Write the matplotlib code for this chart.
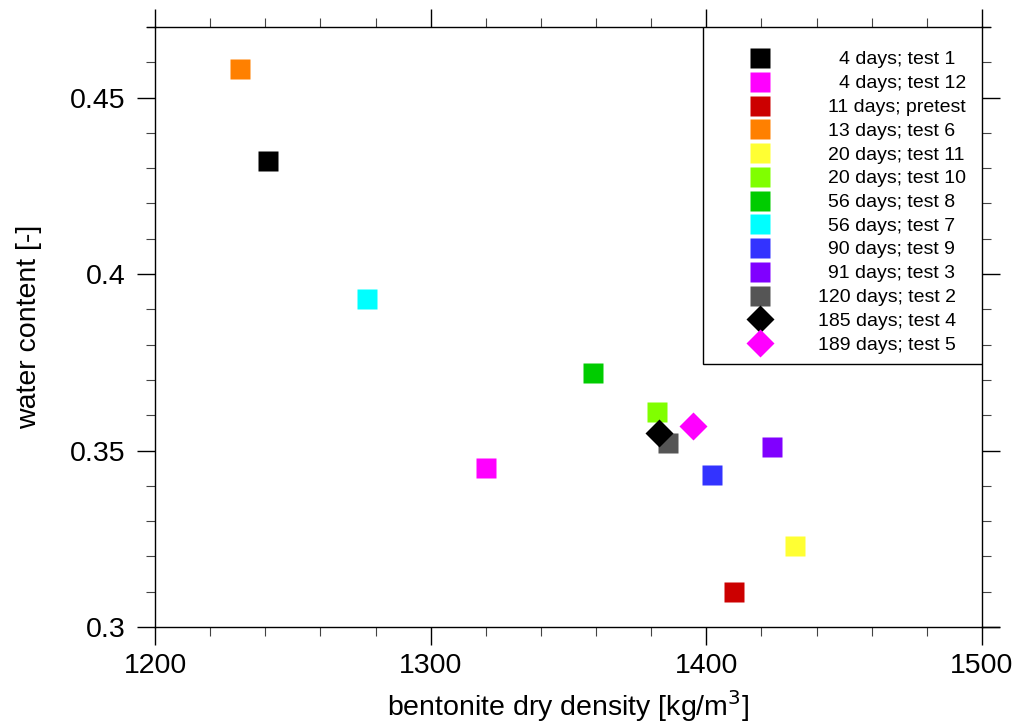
import matplotlib
matplotlib.use("Agg")
import matplotlib.pyplot as plt
from matplotlib.ticker import MultipleLocator
from matplotlib.lines import Line2D
from matplotlib.patches import Rectangle

plt.rcParams['font.family'] = ['Liberation Sans', 'DejaVu Sans']

labels = ["4 days; test 1", "4 days; test 12", "11 days; pretest", "13 days; test 6",
          "20 days; test 11", "20 days; test 10", "56 days; test 8", "56 days; test 7",
          "90 days; test 9", "91 days; test 3", "120 days; test 2", "185 days; test 4",
          "189 days; test 5"]
dry_density = [1241, 1320, 1410, 1231, 1432, 1382, 1359, 1277, 1402, 1424, 1386, 1383, 1395]
water_content = [0.432, 0.345, 0.310, 0.458, 0.323, 0.361, 0.372, 0.393, 0.343, 0.351,
                 0.352, 0.355, 0.357]
colors = ["#000000", "#ff00ff", "#cc0000", "#ff8000", "#ffff33", "#80ff00", "#00cc00",
          "#00ffff", "#3333ff", "#8000ff", "#555555", "#000000", "#ff00ff"]
markers = ["s"] * 11 + ["D", "D"]

W, H = 1016, 724
AX_L, AX_R, AX_T, AX_B = 155, 982, 27, 627

fig = plt.figure(figsize=(W / 100, H / 100), dpi=100)
ax = fig.add_axes([AX_L / W, 1 - AX_B / H, (AX_R - AX_L) / W, (AX_B - AX_T) / H])

MS = 14.4
for x, y, c, m in zip(dry_density, water_content, colors, markers):
    ax.plot([x], [y], linestyle="none", marker=m, markersize=MS,
            markerfacecolor=c, markeredgecolor="none", zorder=3)

ax.set_xlim(1200, 1500)
ax.set_ylim(0.3, 0.47)
ax.xaxis.set_major_locator(MultipleLocator(100))
ax.xaxis.set_minor_locator(MultipleLocator(20))
ax.yaxis.set_minor_locator(MultipleLocator(0.01))
ax.set_yticks([0.3, 0.35, 0.4, 0.45])
ax.set_yticklabels(["0.3", "0.35", "0.4", "0.45"])

ax.tick_params(which="both", direction="out", top=True, right=True,
               labeltop=False, labelright=False, labelsize=20.5, color="black")
ax.tick_params(which="major", length=13, width=1.0)
ax.tick_params(axis="x", which="major", pad=6)
ax.tick_params(axis="y", which="major", pad=8)
ax.tick_params(which="minor", length=6.5, width=0.8, color="#444444")
for s in ax.spines.values():
    s.set_linewidth(1.0)

# small overhangs of the frame lines
for xs, ys in (([1.0, 1.02], [0, 0]), ([-0.01, 0.0], [1, 1]), ([1.0, 1.01], [1, 1])):
    ax.add_line(Line2D(xs, ys, transform=ax.transAxes, color="black",
                       lw=1.0, clip_on=False))

ax.set_xlabel("bentonite dry density [kg/m$^3$]", fontsize=20.5, labelpad=6)
ax.set_ylabel("water content [-]", fontsize=20.5, labelpad=20)


# key box in the upper right corner; the day counts are right-aligned
def to_ax(px, py):
    return (px - AX_L) / (AX_R - AX_L), (AX_B - py) / (AX_B - AX_T)


KEY_FS = 14.0
digit_px = 0.556 * KEY_FS * 100 / 72

x0, y0 = to_ax(703, 364)
x1, y1 = to_ax(982, 27)
ax.add_patch(Rectangle((x0, y0), x1 - x0, y1 - y0, transform=ax.transAxes,
                       facecolor="white", edgecolor="black", lw=1.0, zorder=5))
row0, row_step = 58, 23.75
for i, (lab, c, m) in enumerate(zip(labels, colors, markers)):
    py = row0 + i * row_step
    mx, my = to_ax(760, py)
    ndig = len(lab.split(" ")[0])
    tx, _ = to_ax(850 - ndig * digit_px, py)
    ax.plot([mx], [my], transform=ax.transAxes, linestyle="none", marker=m,
            markersize=MS, markerfacecolor=c, markeredgecolor="none",
            clip_on=False, zorder=6)
    ax.text(tx, my, lab, transform=ax.transAxes, ha="left", va="center_baseline",
            fontsize=KEY_FS, zorder=6)

fig.savefig("out.png", dpi=100)
